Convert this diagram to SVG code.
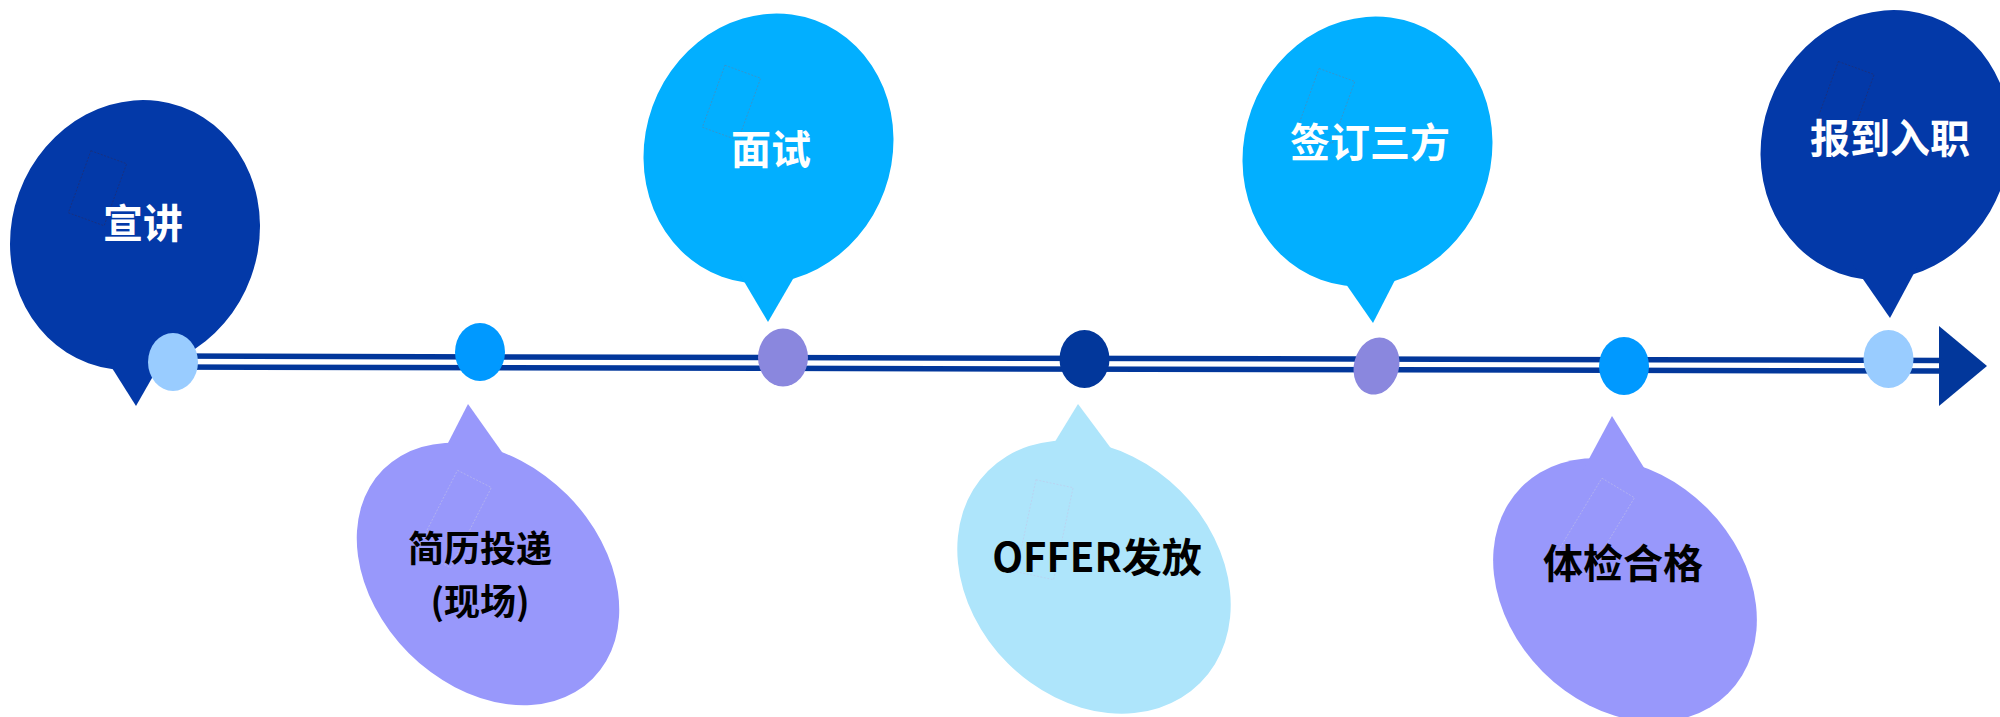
<svg xmlns="http://www.w3.org/2000/svg" width="2000" height="717" viewBox="0 0 2000 717">
<style>
.t{font-family:"Noto Sans CJK SC","Microsoft YaHei",sans-serif;font-weight:bold;font-size:40px;text-anchor:middle}
.s{font-size:36px}
.w{fill:#ffffff}
.k{fill:#000000}
.tl{stroke:#02379b;stroke-width:5.5;fill:none}
.box{fill:none;stroke-width:0.8;stroke-dasharray:2 1.5}
.bd{stroke:#1b2f7a}
.bc{stroke:#3a93c8}
.bl{stroke:#c4c4e6;stroke-opacity:0.6}
.dark{fill:#0339a8}
.cyan{fill:#02afff}
.lav{fill:#9898fb}
.pale{fill:#aee5fb}
</style>
<rect width="2000" height="717" fill="#ffffff"/>
<g id="connectors">
  <line class="tl" x1="160" y1="356" x2="1942" y2="360.5"/>
  <line class="tl" x1="160" y1="367" x2="1942" y2="371"/>
  <polygon points="1939,326 1987,366 1939,406" fill="#02379b"/>
</g>
<g id="node-xuanjiang">
  <ellipse class="dark" cx="135" cy="235" rx="123.4" ry="136.4" transform="rotate(20 135 235)"/>
  <polygon class="dark" points="105.7,358 136,406 163.4,358"/>
  <rect class="box bd" x="78.5" y="155.25" width="38" height="66" transform="rotate(20 97.5 188.25)"/>
  <text class="t w" x="143" y="238">宣讲</text>
  <ellipse cx="173" cy="362" rx="25" ry="29" fill="#99ccff"/>
</g>
<g id="node-jianli">
  <ellipse class="lav" cx="488" cy="574" rx="148" ry="112" transform="rotate(45 488 574)"/>
  <polygon class="lav" points="440.3,458 468,404 506.2,458"/>
  <rect class="box bl" x="435" y="474" width="38" height="90" transform="rotate(27 454 519)"/>
  <text class="t k s" x="480" y="562">简历投递</text>
  <text class="t k s" x="480" y="615">(现场)</text>
  <ellipse cx="480" cy="352" rx="25" ry="29" fill="#0099ff"/>
</g>
<g id="node-mianshi">
  <ellipse class="cyan" cx="768.5" cy="148.5" rx="123.4" ry="136.4" transform="rotate(20 768.5 148.5)"/>
  <polygon class="cyan" points="737.3,270 768,322 798.2,270"/>
  <rect class="box bc" x="712.5" y="69.75" width="38" height="66" transform="rotate(20 731.5 102.75)"/>
  <text class="t w" x="771" y="164">面试</text>
  <ellipse cx="783" cy="357.5" rx="25" ry="29" fill="#8a87de"/>
</g>
<g id="node-offer">
  <ellipse class="pale" cx="1094" cy="577" rx="150" ry="122" transform="rotate(45 1094 577)"/>
  <polygon class="pale" points="1045,458 1078,404 1118.2,458"/>
  <rect class="box bl" x="1025.75" y="482.75" width="38" height="94" transform="rotate(12 1044.75 529.75)"/>
  <text class="t k" x="1097" y="572">OFFER发放</text>
  <ellipse cx="1084.5" cy="359" rx="25" ry="29" fill="#02379b"/>
</g>
<g id="node-qianding">
  <ellipse class="cyan" cx="1367.5" cy="151.5" rx="123.4" ry="136.4" transform="rotate(20 1367.5 151.5)"/>
  <polygon class="cyan" points="1337.6,272 1373,323 1399.1,272"/>
  <rect class="box bc" x="1306.7" y="73" width="38" height="66" transform="rotate(20 1325.7 106)"/>
  <text class="t w" x="1370" y="157">签订三方</text>
  <ellipse cx="1376.5" cy="366" rx="22.5" ry="29" fill="#8a87de" transform="rotate(15 1376.5 366)"/>
</g>
<g id="node-tijian">
  <ellipse class="lav" cx="1625" cy="590" rx="146" ry="116" transform="rotate(45 1625 590)"/>
  <polygon class="lav" points="1583,470 1612,416 1645.4,470"/>
  <rect class="box bl" x="1576" y="481.5" width="38" height="90" transform="rotate(31 1595 526.5)"/>
  <text class="t k" x="1623" y="578">体检合格</text>
  <ellipse cx="1624" cy="366" rx="25" ry="29" fill="#0099ff"/>
</g>
<g id="node-baodao">
  <ellipse class="dark" cx="1885.5" cy="145" rx="123.4" ry="136.4" transform="rotate(20 1885.5 145)"/>
  <polygon class="dark" points="1853.2,265 1890,318 1918.4,265"/>
  <rect class="box bd" x="1826" y="66" width="38" height="66" transform="rotate(20 1845 99)"/>
  <text class="t w" x="1890" y="153">报到入职</text>
  <ellipse cx="1888.5" cy="359" rx="25" ry="29" fill="#99ccff"/>
</g>
</svg>
